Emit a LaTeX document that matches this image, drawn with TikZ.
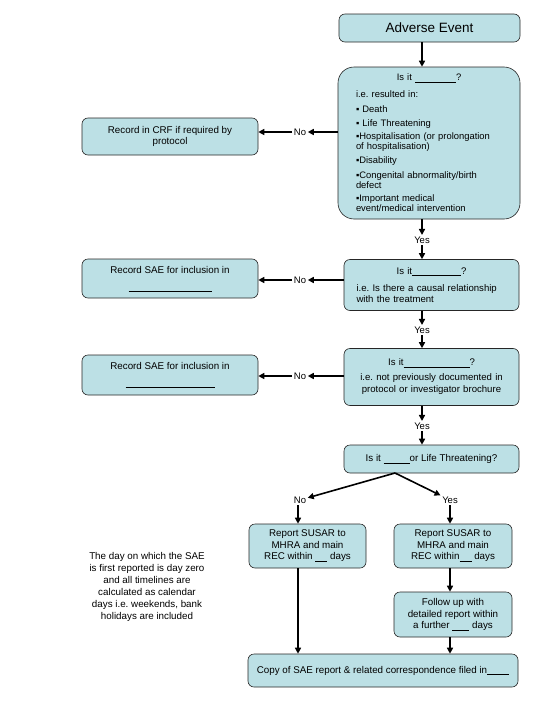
\documentclass[tikz,border=0pt]{standalone}
\usepackage{fontspec}
\setmainfont{Liberation Sans}
\usetikzlibrary{arrows.meta,shapes}
\definecolor{boxblue}{RGB}{188,224,229}
\newcommand{\blank}[1]{\rule[-1.5pt]{#1}{0.5pt}}
\frenchspacing

\begin{document}
\begin{tikzpicture}[x=1pt,y=-1pt,
  box/.style={draw=black!85,line width=0.6pt,fill=boxblue,rounded corners=6pt,
    inner sep=2pt,align=center,font=\fontsize{9.8}{11.5}\selectfont},
  flow/.style={-{Triangle[length=6pt,width=6pt]},line width=1.6pt},
  answer/.style={inner sep=1.5pt,font=\fontsize{9.5}{11}\selectfont}]
\useasboundingbox (0,0) rectangle (540,720);
\coordinate (spine) at (422,0);
\coordinate (split) at (395,473);
% boxes on the right
\node[box,minimum width=181pt,minimum height=28pt,font=\fontsize{13.5}{15}\selectfont] (ae) at (429.5,28) {Adverse Event};
\node[box,minimum width=182pt,minimum height=152pt,rounded corners=16pt,text width=146pt,align=left,
  font=\fontsize{9.4}{10}\selectfont] (serious) at (429,143)
  {\makebox[146pt]{Is it \blank{41pt}?}\\[7pt]
   i.e. resulted in:\\[5pt]
   ▪ Death\\[4pt]
   ▪ Life Threatening\\[3pt]
   ▪Hospitalisation (or prolongation\\of hospitalisation)\\[4pt]
   ▪Disability\\[5pt]
   ▪Congenital abnormality/birth\\defect\\[3pt]
   ▪Important medical\\event/medical intervention};
\node[box,minimum width=175pt,minimum height=51pt,text width=150pt,align=left,
  font=\fontsize{9.6}{11}\selectfont] (causal) at (431.5,285)
  {\makebox[150pt]{Is it\blank{49pt}?}\\[6pt]
   i.e. Is there a causal relationship\\with the treatment};
\node[box,minimum width=175pt,minimum height=57pt,text width=170pt,
  font=\fontsize{9.6}{12}\selectfont] (expected) at (431.5,377)
  {Is it\blank{66pt}?\\[3pt] i.e. not previously documented in\\protocol or investigator brochure};
\node[box,minimum width=175pt,minimum height=28pt] (lifethr) at (431.5,459) {Is it \blank{26pt}or Life Threatening?};
% boxes on the left
\node[box,minimum width=176pt,minimum height=37pt] (crf) at (170,136.5)
  {Record in CRF if required by\\protocol};
\node[box,minimum width=176pt,minimum height=39pt] (saea) at (170,278.5)
  {Record SAE for inclusion in\\[5pt]\blank{83pt}};
\node[box,minimum width=176pt,minimum height=40pt] (saeb) at (170,375)
  {Record SAE for inclusion in\\[5pt]\blank{89pt}};
% reporting
\node[box,minimum width=117pt,minimum height=44pt] (susarno) at (307.5,546)
  {Report SUSAR to\\MHRA and main\\REC within \blank{12pt} days};
\node[box,minimum width=118pt,minimum height=44pt] (susaryes) at (453,546)
  {Report SUSAR to\\MHRA and main\\REC within\blank{12pt} days};
\node[box,minimum width=118pt,minimum height=45pt] (followup) at (453,614.5)
  {Follow up with\\detailed report within\\a further \blank{17pt} days};
\node[box,minimum width=270pt,minimum height=33pt] (filed) at (383,670.5)
  {Copy of SAE report \& related correspondence filed in\blank{22pt}};
\node[align=center,font=\fontsize{9.8}{12}\selectfont] (note) at (147,587)
  {The day on which the SAE\\is first reported is day zero\\and all timelines are\\calculated as calendar\\days i.e. weekends, bank\\holidays are included};
% answers
\node[answer] (no1) at (300,132) {No};
\node[answer] (no2) at (300,280) {No};
\node[answer] (no3) at (300,376) {No};
\node[answer] (yes1) at (422,240) {Yes};
\node[answer] (yes2) at (422,330) {Yes};
\node[answer] (yes3) at (422,426) {Yes};
\node[answer] (no4) at (300,500) {No};
\node[answer] (yes4) at (450,500) {Yes};
% connectors
\draw[flow] (ae.south -| spine) -- (serious.north -| spine);
\draw[flow] (serious.west |- no1) -- (no1);
\draw[flow] (no1) -- (crf.east |- no1);
\draw[flow] (serious.south -| spine) -- (yes1);
\draw[flow] (yes1) -- (causal.north -| spine);
\draw[flow] (causal.west |- no2) -- (no2);
\draw[flow] (no2) -- (saea.east |- no2);
\draw[flow] (causal.south -| spine) -- (yes2);
\draw[flow] (yes2) -- (expected.north -| spine);
\draw[flow] (expected.west |- no3) -- (no3);
\draw[flow] (no3) -- (saeb.east |- no3);
\draw[flow] (expected.south -| spine) -- (yes3);
\draw[flow] (yes3) -- (lifethr.north -| spine);
\draw[flow] (split) -- (no4);
\draw[flow] (split) -- (yes4);
\draw[flow] (no4.south -| 298,0) -- (susarno.north -| 298,0);
\draw[flow] (yes4) -- (susaryes.north -| yes4);
\draw[flow] (susaryes.south -| yes4) -- (followup.north -| yes4);
\draw[flow] (susarno.south -| 298,0) -- (filed.north -| 298,0);
\draw[flow] (followup.south -| yes4) -- (filed.north -| yes4);
\end{tikzpicture}
\end{document}
